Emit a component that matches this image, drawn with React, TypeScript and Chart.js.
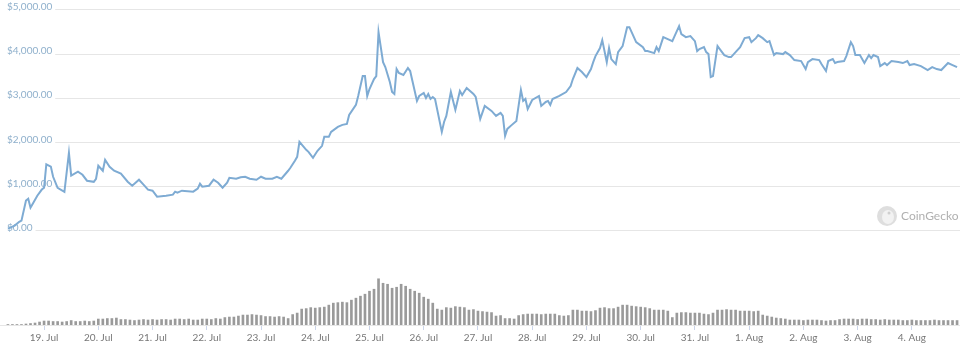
import React, { useEffect, useRef } from 'react';
import { Chart, registerables } from 'chart.js';

Chart.register(...registerables);

// ---- data ----
const dayLabels = [
  '19. Jul', '20. Jul', '21. Jul', '22. Jul', '23. Jul', '24. Jul', '25. Jul', '26. Jul',
  '27. Jul', '28. Jul', '29. Jul', '30. Jul', '31. Jul', '1. Aug', '2. Aug', '3. Aug', '4. Aug',
];

const priceTicks = [0, 1000, 2000, 3000, 4000, 5000];
const priceTickLabels = ['$0.00', '$1,000.00', '$2,000.00', '$3,000.00', '$4,000.00', '$5,000.00'];

// hours relative to 19 Jul 00:00
const priceHours = [
  -16, -13, -11, -10, -8, -7, -6, -5, -3, -1, 0, 1, 3, 4, 6, 9, 11, 12, 15, 17, 19, 22, 23, 24, 26, 27, 29, 31, 34, 37,
  39, 42, 44, 46, 48, 50, 54, 57, 58, 59, 61, 66, 68, 69, 70, 73, 75, 77, 79, 81, 82, 85, 87, 89, 91, 94, 96, 98, 101, 103,
  105, 108, 109, 111, 112, 113, 116, 117, 119, 121, 123, 124, 126, 127, 130, 132, 134, 135, 138, 139, 141, 142, 143, 144, 146, 147, 148, 150, 151, 153,
  154, 155, 156, 157, 159, 161, 162, 163, 165, 166, 168, 169, 170, 171, 172, 173, 176, 177, 178, 180, 182, 184, 185, 187, 190, 191, 193, 195, 198, 200,
  202, 203, 204, 205, 207, 209, 211, 212, 213, 214, 216, 219, 220, 222, 223, 224, 225, 228, 231, 233, 234, 236, 238, 240, 242, 243, 244, 246, 247, 249,
  250, 251, 253, 254, 256, 258, 259, 260, 262, 265, 266, 267, 270, 271, 272, 274, 276, 278, 279, 281, 282, 284, 286, 288, 289, 290, 292, 293, 294, 295,
  296, 298, 299, 301, 303, 304, 306, 308, 310, 312, 313, 315, 316, 318, 320, 321, 323, 324, 327, 328, 330, 332, 335, 337, 338, 340, 343, 344, 346, 347,
  349, 350, 351, 354, 355, 357, 358, 359, 361, 363, 365, 366, 367, 369, 370, 372, 373, 375, 378, 380, 382, 383, 385, 388, 391, 393, 395, 397, 400, 402,
  404,
];

const priceValues = [
  45, 113, 200, 226, 680, 723, 520, 610, 790, 930, 970, 1500, 1450, 1220, 970, 880, 1760, 1245, 1335, 1265, 1130, 1105, 1175, 1470, 1356, 1605, 1446, 1356, 1290, 1108,
  1017, 1153, 1040, 927, 904, 768, 790, 814, 882, 860, 904, 882, 950, 1062, 995, 1017, 1153, 1085, 972, 1085, 1198, 1175, 1210, 1220, 1175, 1153, 1220, 1175, 1175, 1220,
  1175, 1356, 1424, 1582, 1672, 2011, 1830, 1785, 1650, 1808, 1921, 2124, 2124, 2237, 2350, 2396, 2418, 2622, 2848, 3051, 3503, 3503, 3051, 3209, 3435, 3503, 4497, 3819, 3706, 3367,
  3141, 3096, 3661, 3571, 3526, 3684, 3616, 3390, 2938, 3051, 3119, 3006, 3096, 2983, 3028, 2983, 2237, 2463, 2599, 3141, 2735, 3164, 3073, 3232, 3096, 3028, 2531, 2825, 2712, 2599,
  2667, 2599, 2147, 2305, 2396, 2486, 3187, 2938, 2983, 2757, 2961, 3051, 2825, 2915, 2938, 2848, 2983, 3051, 3141, 3277, 3435, 3684, 3593, 3480, 3661, 3819, 3955, 4136, 4317, 3819,
  4136, 3887, 3774, 4045, 4181, 4610, 4610, 4497, 4271, 4158, 4068, 4068, 4023, 4158, 4068, 4384, 4339, 4294, 4407, 4633, 4452, 4384, 4407, 4294, 4068, 4113, 4158, 4045, 4000, 3480,
  3503, 4181, 4113, 3978, 3933, 3933, 4045, 4158, 4362, 4384, 4271, 4362, 4430, 4362, 4271, 4294, 3978, 4023, 4000, 4045, 3978, 3865, 3842, 3661, 3819, 3887, 3865, 3774, 3616, 3842,
  3887, 3797, 3819, 3842, 3955, 4271, 4181, 3978, 3978, 3797, 3978, 3910, 3978, 3933, 3729, 3797, 3752, 3842, 3819, 3797, 3842, 3752, 3774, 3729, 3639, 3706, 3661, 3639, 3797, 3752,
  3706,
];

// 2-hourly volume (USD millions), first bar at hour -16
const volumeStartHour = -16;
const volumeStepHours = 2;
const volumeValues = [
  1, 1, 1, 1, 2, 3, 4, 6, 8, 8, 7, 7, 6, 7, 9, 7, 7, 8, 7, 8,
  12, 12, 13, 13, 14, 11, 11, 10, 9, 10, 11, 10, 11, 10, 11, 11, 10, 12, 12, 11,
  12, 10, 10, 12, 12, 11, 13, 12, 15, 16, 16, 18, 20, 20, 21, 20, 19, 17, 17, 16,
  17, 16, 13, 21, 24, 32, 33, 35, 34, 35, 36, 40, 44, 45, 46, 45, 50, 54, 58, 62,
  68, 72, 93, 84, 82, 74, 76, 82, 78, 72, 68, 64, 56, 52, 44, 32, 30, 35, 34, 37,
  36, 35, 30, 31, 28, 27, 26, 25, 18, 19, 13, 13, 12, 19, 21, 22, 22, 22, 21, 22,
  22, 22, 19, 18, 19, 30, 30, 28, 28, 27, 29, 34, 35, 33, 33, 36, 40, 40, 38, 37,
  36, 35, 33, 30, 30, 30, 28, 15, 24, 25, 25, 24, 24, 24, 22, 21, 24, 30, 30, 31,
  30, 30, 28, 28, 28, 27, 28, 20, 18, 16, 14, 13, 12, 10, 10, 10, 9, 10, 10, 10,
  9, 8, 9, 9, 11, 12, 12, 12, 11, 12, 12, 11, 11, 10, 11, 10, 10, 10, 9, 9,
  10, 9, 9, 9, 9, 10, 9, 9, 9, 9, 9,
];

const LABEL_FONT = '10px Lato';

const overlayPlugin = {
  id: 'overlay',
  beforeDatasetsDraw(chart: any) {
    const { ctx } = chart;
    const y = chart.scales.y;
    ctx.save();
    ctx.font = LABEL_FONT;
    ctx.textBaseline = 'middle';
    ctx.textAlign = 'left';
    priceTicks.forEach((v, i) => {
      const py = y.getPixelForValue(v);
      const text = priceTickLabels[i];
      const w = ctx.measureText(text).width;
      ctx.fillStyle = '#ffffff';
      ctx.fillRect(0, py - 9, 7 + w + 3, 12);
      ctx.fillStyle = '#8fb0cc';
      ctx.fillText(text, 7, py - 3);
    });
    ctx.restore();
  },
  afterDraw(chart: any) {
    const { ctx } = chart;
    ctx.save();
    const cx = 887;
    const cy = 216;
    ctx.fillStyle = '#dedede';
    ctx.beginPath();
    ctx.arc(cx, cy, 10, 0, Math.PI * 2);
    ctx.fill();
    ctx.fillStyle = '#f2f2f2';
    ctx.beginPath();
    ctx.ellipse(cx + 1, cy + 1, 6, 7, 0, 0, Math.PI * 2);
    ctx.fill();
    ctx.fillStyle = '#cfcfcf';
    ctx.beginPath();
    ctx.arc(cx + 2, cy - 3, 1.5, 0, Math.PI * 2);
    ctx.fill();
    ctx.font = '12px Lato';
    ctx.fillStyle = '#b0b0b0';
    ctx.textBaseline = 'middle';
    ctx.textAlign = 'left';
    ctx.fillText('CoinGecko', 901, cy);
    ctx.restore();
  },
};

export default function App() {
  const canvasRef = useRef<HTMLCanvasElement | null>(null);

  useEffect(() => {
    document.body.style.margin = '0';
    const canvas = canvasRef.current;
    if (!canvas) return;

    const priceData = priceHours.map((h, i) => ({ x: h, y: priceValues[i] }));
    const volumeData = volumeValues.map((v, i) => ({ x: volumeStartHour + i * volumeStepHours, y: v }));

    const chart = new Chart(canvas, {
      type: 'line',
      data: {
        datasets: [
          {
            type: 'line',
            data: priceData,
            yAxisID: 'y',
            borderColor: '#7eabd3',
            borderWidth: 2,
            pointRadius: 0,
            tension: 0,
            fill: false,
          } as any,
          {
            type: 'bar',
            data: volumeData,
            yAxisID: 'yv',
            backgroundColor: '#9a9a9a',
            barThickness: 2,
            borderWidth: 0,
          } as any,
        ],
      },
      plugins: [overlayPlugin],
      options: {
        responsive: false,
        animation: false,
        layout: { padding: { top: 8, bottom: 7, left: 0, right: 0 } },
        plugins: {
          legend: { display: false },
          tooltip: { enabled: false },
        },
        scales: {
          x: {
            type: 'linear',
            min: -19.5,
            max: 405.3,
            offset: false,
            afterBuildTicks: (scale: any) => {
              scale.ticks = dayLabels.map((_, i) => ({ value: i * 24 }));
            },
            ticks: {
              autoSkip: false,
              maxRotation: 0,
              padding: 2,
              color: '#777777',
              font: { family: 'Lato', size: 10 },
              callback: (value: any) => dayLabels[Math.round(Number(value) / 24)] ?? '',
            },
            grid: {
              offset: false,
              drawOnChartArea: false,
              drawTicks: true,
              tickLength: 5,
              color: '#ccd6eb',
            },
            border: { display: true, color: '#e6e6e6' },
          },
          y: {
            type: 'linear',
            min: -2140,
            max: 5045,
            afterBuildTicks: (scale: any) => {
              scale.ticks = priceTicks.map((v) => ({ value: v }));
            },
            ticks: { display: false },
            grid: { color: '#e6e6e6', drawTicks: false },
            border: { display: false },
          },
          yv: {
            type: 'linear',
            min: 0,
            max: 638,
            display: false,
          },
        },
      } as any,
    });

    return () => chart.destroy();
  }, []);

  return (
    <div style={{ width: 960, height: 353 }}>
      <canvas ref={canvasRef} width={960} height={353} style={{ display: 'block' }} />
    </div>
  );
}
